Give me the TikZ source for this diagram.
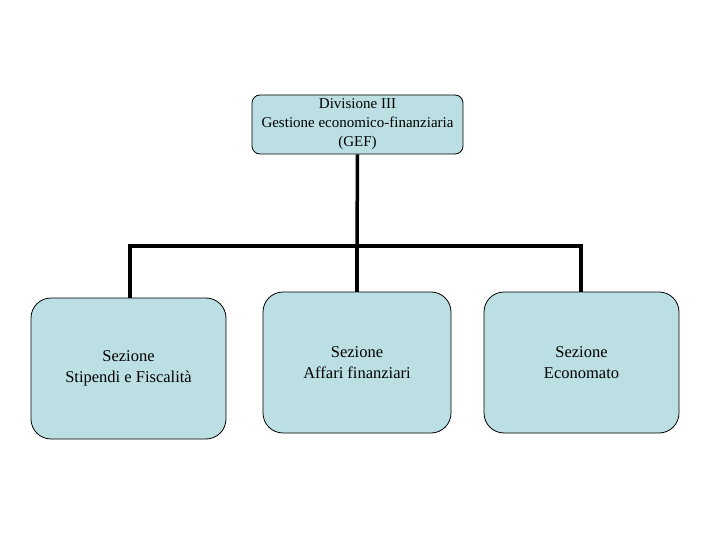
\documentclass[tikz,border=0pt]{standalone}
\usepackage{fontspec}
\setmainfont{Liberation Serif}
\definecolor{boxfill}{HTML}{BBDFE3}
\begin{document}
\begin{tikzpicture}[x=1pt,y=-1pt,
  box/.style={draw=black, line width=0.8pt, fill=boxfill, rounded corners=20pt, align=center, inner sep=0pt, font=\fontsize{16.5}{21}\selectfont},
  topbox/.style={box, rounded corners=8pt, font=\fontsize{15}{19}\selectfont},
  link/.style={line width=3.5pt}]
\useasboundingbox (0,0) rectangle (720,540);
\node[topbox, minimum width=211pt, minimum height=59pt] (top) at (357.5,124.5) {Divisione III\\Gestione economico-finanziaria\\(GEF)};
\node[box, minimum width=195pt, minimum height=141pt] (left) at (128.5,368.5) {Sezione\\Stipendi e Fiscalità};
\node[box, minimum width=188pt, minimum height=141pt] (mid) at (357,362.5) {Sezione\\Affari finanziari};
\node[box, minimum width=195pt, minimum height=141pt] (right) at (581.5,362.5) {Sezione\\Economato};
\coordinate (bus) at (357,246);
\draw[link] (top.south) -- (bus);
\draw[link] (left.north -| 130,0) |- (bus) -| (right.north -| 581,0);
\draw[link] (bus) -- (mid.north);
\end{tikzpicture}
\end{document}
